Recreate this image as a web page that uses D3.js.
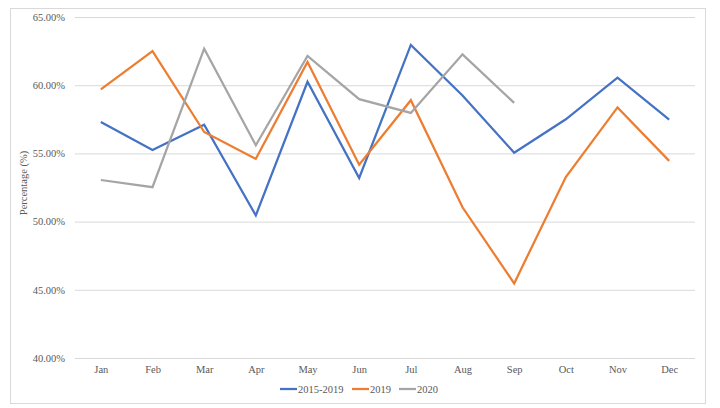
<!DOCTYPE html>
<html>
<head>
<meta charset="utf-8">
<script src="https://cdn.jsdelivr.net/npm/d3@7"></script>
<style>
  body { margin: 0; background: #fff; }
  text { font-family: "Liberation Serif", "DejaVu Serif", serif; fill: #595959; }
</style>
</head>
<body>
<svg id="chart" width="720" height="408"></svg>
<script>
// months on the x axis
const months = ["Jan","Feb","Mar","Apr","May","Jun","Jul","Aug","Sep","Oct","Nov","Dec"]
const seriesNames = ["2015-2019","2019","2020"]
const avg2015_2019 = [57.3, 55.25, 57.1, 50.45, 60.25, 53.2, 62.95, 59.25, 55.05, 57.5, 60.55, 57.47]
const values2019 = [59.7, 62.5, 56.57, 54.6, 61.7, 54.17, 58.9, 51.05, 45.47, 53.27, 58.37, 54.45]
const values2020 = [53.05, 52.52, 62.68, 55.6, 62.15, 58.98, 57.97, 62.26, 58.7]
const yTicks = [40, 45, 50, 55, 60, 65]
const colors = ["#4472C4", "#ED7D31", "#A5A5A5"]

const svg = d3.select("#chart")
const plotLeft = 75, plotRight = 695, plotTop = 17, plotBottom = 358

// outer chart border
svg.append("rect")
  .attr("x", 10.5).attr("y", 8.5)
  .attr("width", 695).attr("height", 395)
  .attr("fill", "none").attr("stroke", "#d9d9d9")

const x = d3.scalePoint().domain(months).range([plotLeft, plotRight]).padding(0.5)
const y = d3.scaleLinear().domain([40, 65]).range([plotBottom, plotTop])

// horizontal gridlines + y labels
const yAxis = svg.append("g")
  .attr("transform", `translate(${plotLeft},0)`)
  .call(d3.axisLeft(y).tickValues(yTicks).tickSize(-(plotRight - plotLeft)).tickPadding(10)
    .tickFormat(d => d.toFixed(2) + "%"))
yAxis.select(".domain").remove()
yAxis.selectAll(".tick line").attr("stroke", "#d9d9d9").attr("stroke-width", 1)
yAxis.selectAll(".tick text").attr("font-size", 10.5).style("fill", "#595959")

// x labels
const xAxis = svg.append("g")
  .attr("transform", `translate(0,${plotBottom})`)
  .call(d3.axisBottom(x).tickSize(0).tickPadding(8))
xAxis.select(".domain").remove()
xAxis.selectAll(".tick text").attr("font-size", 10.5).style("fill", "#595959")

// y axis title
svg.append("text")
  .attr("transform", "translate(27,183) rotate(-90)")
  .attr("text-anchor", "middle")
  .attr("font-size", 10.5)
  .text("Percentage (%)")

// lines
const line = d3.line().x((d, i) => x(months[i])).y(d => y(d))
const allSeries = [avg2015_2019, values2019, values2020]
allSeries.forEach(function(vals, i){
  svg.append("path")
    .datum(vals)
    .attr("d", line)
    .attr("fill", "none")
    .attr("stroke", colors[i])
    .attr("stroke-width", 2.25)
    .attr("stroke-linejoin", "miter")
})

// legend
const legendX = [280, 352, 399]
const legend = svg.append("g").attr("transform", "translate(0,389)")
seriesNames.forEach(function(name, i){
  legend.append("line")
    .attr("x1", legendX[i]).attr("x2", legendX[i] + 17)
    .attr("y1", 0).attr("y2", 0)
    .attr("stroke", colors[i]).attr("stroke-width", 2.25)
  legend.append("text")
    .attr("x", legendX[i] + 18).attr("y", 4)
    .attr("font-size", 10.5)
    .text(name)
})
</script>
</body>
</html>
